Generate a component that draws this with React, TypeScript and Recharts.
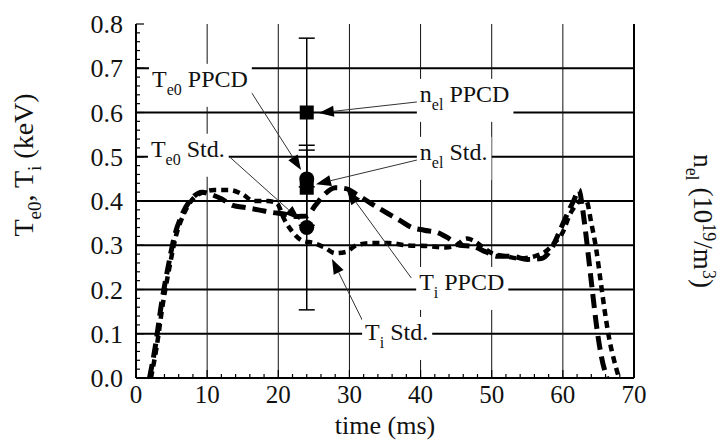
import React from 'react'
import {
  ComposedChart,
  Line,
  Scatter,
  ErrorBar,
  XAxis,
  YAxis,
  ReferenceLine,
  ReferenceDot,
  Label
} from 'recharts'

const SERIF = '"Liberation Serif", "Times New Roman", serif'

// Ti traces (keV) vs time (ms)
const tiPpcdTime = [1.9, 2.7, 3.6, 4.5, 5.4, 6.5, 7.8, 9.3, 10.5, 12, 13.6, 15.4, 17.2, 19.2, 21, 22.6, 24, 25.2, 26.5, 28, 29.5, 31, 32.5, 34, 35.8, 37.2, 38.8, 40.5, 42.5, 44, 45.5, 47.2, 49.2, 50.8, 52.8, 55, 57, 58.3, 59.5, 60.6, 61.5, 62.3, 62.7, 63.2, 63.7, 64.2, 64.8, 65.4, 66.2]
const tiPpcdKeV = [0, 0.07, 0.17, 0.25, 0.32, 0.37, 0.405, 0.42, 0.415, 0.405, 0.39, 0.385, 0.38, 0.374, 0.37, 0.365, 0.366, 0.39, 0.415, 0.43, 0.428, 0.415, 0.4, 0.385, 0.368, 0.355, 0.34, 0.334, 0.328, 0.315, 0.3, 0.298, 0.285, 0.275, 0.275, 0.268, 0.27, 0.29, 0.33, 0.37, 0.4, 0.425, 0.39, 0.33, 0.26, 0.19, 0.11, 0.05, 0]

const tiStdTime = [2.1, 2.9, 3.8, 4.7, 5.6, 6.7, 8, 9.5, 11, 13, 15, 16.5, 18.5, 19.8, 20.8, 22, 23.4, 25, 26.5, 28, 29.5, 31, 33, 35.5, 38, 41, 43.5, 45, 46.5, 47.5, 48.8, 50.3, 52, 54, 56, 57.5, 58.8, 60, 61, 61.8, 62.4, 63.3, 64, 64.7, 65.3, 65.9, 66.5, 67.2, 67.9]
const tiStdKeV = [0, 0.07, 0.17, 0.25, 0.32, 0.37, 0.405, 0.42, 0.425, 0.425, 0.415, 0.4, 0.4, 0.395, 0.36, 0.33, 0.31, 0.305, 0.295, 0.282, 0.285, 0.3, 0.305, 0.305, 0.3, 0.298, 0.295, 0.3, 0.315, 0.31, 0.295, 0.28, 0.275, 0.27, 0.275, 0.285, 0.305, 0.33, 0.37, 0.39, 0.4, 0.4, 0.35, 0.29, 0.22, 0.15, 0.09, 0.04, 0]

// point measurements at t = 24 ms
const probeTime = [24, 24]
const nelValues = [0.6, 0.43] // PPCD, Std. (squares)
const nelErrors = [0.168, 0.085]
const te0Values = [0.45, 0.34] // PPCD, Std. (circles)
const te0Errors = [0, 0.186]

const xMajor = [0, 10, 20, 30, 40, 50, 60, 70]
const yMajor = [0, 0.1, 0.2, 0.3, 0.4, 0.5, 0.6, 0.7, 0.8]
const xTicks = Array.from({ length: 36 }, (_, i) => i * 2)
const yTicks = Array.from({ length: 41 }, (_, i) => i / 50)

const tiPpcd = tiPpcdTime.map((x, i) => ({ x, y: tiPpcdKeV[i] }))
const tiStd = tiStdTime.map((x, i) => ({ x, y: tiStdKeV[i] }))
const nelPoints = nelValues.map((y, i) => ({ x: probeTime[i], y, err: nelErrors[i] }))
const te0Points = te0Values.map((y, i) => ({ x: probeTime[i], y, err: te0Errors[i] }))

// annotation text, anchored in data units
const notes = [
  { main: 'T', sub: 'e0', rest: ' PPCD', at: [2.25, 0.658], from: [16.0, 0.651], to: [23.2, 0.47] },
  { main: 'T', sub: 'e0', rest: ' Std.', at: [2.1, 0.5], from: [13.2, 0.499], to: [23.05, 0.357] },
  { main: 'n', sub: 'el', rest: ' PPCD', at: [39.9, 0.624], from: [39.6, 0.624], to: [25.7, 0.599] },
  { main: 'n', sub: 'el', rest: ' Std.', at: [39.9, 0.493], from: [39.6, 0.493], to: [25.3, 0.438] },
  { main: 'T', sub: 'i', rest: ' PPCD', at: [39.8, 0.199], from: [38.7, 0.226], to: [29.65, 0.425] },
  { main: 'T', sub: 'i', rest: ' Std.', at: [32.2, 0.086], from: [31.8, 0.131], to: [27.55, 0.269] }
]

let ctx: CanvasRenderingContext2D | null = null
function textWidth(s: string, size: number) {
  if (!ctx) ctx = document.createElement('canvas').getContext('2d')
  if (!ctx) return s.length * size * 0.5
  ctx.font = `${size}px "Liberation Serif"`
  return ctx.measureText(s).width
}

const isMajor = (v: number, step: number) => Math.abs(v / step - Math.round(v / step)) < 1e-6

function BottomTick({ x, y, payload }: any) {
  const v = payload.value
  const major = isMajor(v, 10)
  return (
    <g>
      <line x1={x} y1={y} x2={x} y2={y - (major ? 8 : 4)} stroke="#000" strokeWidth={1.2} />
      {major && (
        <text x={x} y={y + 25} textAnchor="middle" fontSize={25} fontFamily={SERIF} fill="#111">
          {v}
        </text>
      )}
    </g>
  )
}

function TopTick({ x, y, payload }: any) {
  const major = isMajor(payload.value, 10)
  return <line x1={x} y1={y} x2={x} y2={y + (major ? 8 : 4)} stroke="#000" strokeWidth={1.2} />
}

function LeftTick({ x, y, payload }: any) {
  const v = payload.value
  const major = isMajor(v, 0.1)
  return (
    <g>
      <line x1={x} y1={y} x2={x + (major ? 8 : 4)} y2={y} stroke="#000" strokeWidth={1.2} />
      {major && (
        <text x={x - 13} y={y + 9} textAnchor="end" fontSize={26} fontFamily={SERIF} fill="#111">
          {v.toFixed(1)}
        </text>
      )}
    </g>
  )
}

function RightTick({ x, y, payload }: any) {
  const v = payload.value
  const major = isMajor(v, 0.1)
  return (
    <g>
      <line x1={x} y1={y} x2={x - (major ? 8 : 4)} y2={y} stroke="#000" strokeWidth={1.2} />
      {major && (
        <text x={x + 8} y={y + 9} textAnchor="start" fontSize={26} fontFamily={SERIF} fill="#111">
          {v.toFixed(1)}
        </text>
      )}
    </g>
  )
}

function NoteBox({ cx, cy, note }: any) {
  const w = textWidth(note.main, 24) + textWidth(note.sub, 16) + textWidth(note.rest, 24)
  return (
    <g>
      <rect x={cx - 3} y={cy - 23} width={w + 7} height={43} fill="#fff" />
      <text x={cx} y={cy} fontSize={24} fontFamily={SERIF} fill="#111" style={{ whiteSpace: 'pre' }}>
        <tspan>{note.main}</tspan>
        <tspan fontSize={16} dy={8}>{note.sub}</tspan>
        <tspan dy={-8}>{note.rest}</tspan>
      </text>
    </g>
  )
}

function Arrow({ x1, y1, x2, y2 }: any) {
  const a = Math.atan2(y2 - y1, x2 - x1)
  const len = 15
  const half = 5.5
  const bx = x2 - len * Math.cos(a)
  const by = y2 - len * Math.sin(a)
  const px = -Math.sin(a) * half
  const py = Math.cos(a) * half
  return (
    <g>
      <line x1={x1} y1={y1} x2={bx} y2={by} stroke="#333" strokeWidth={1} />
      <polygon points={`${x2},${y2} ${bx + px},${by + py} ${bx - px},${by - py}`} fill="#000" />
    </g>
  )
}

const SquareMark = ({ cx, cy }: any) => <rect x={cx - 7} y={cy - 7} width={14} height={14} fill="#000" />
const CircleMark = ({ cx, cy }: any) => <circle cx={cx} cy={cy} r={7.5} fill="#000" />

function LeftTitle({ viewBox }: any) {
  const x = viewBox.x + 33
  const y = viewBox.y + viewBox.height / 2 - 36
  return (
    <text transform={`translate(${x},${y}) rotate(-90)`} textAnchor="middle" fontSize={28} fontFamily={SERIF} fill="#111" style={{ whiteSpace: 'pre' }}>
      <tspan>T</tspan>
      <tspan fontSize={19} dy={8}>e0</tspan>
      <tspan dy={-8}>, T</tspan>
      <tspan fontSize={19} dy={8}>i</tspan>
      <tspan dy={-8}> (keV)</tspan>
    </text>
  )
}

function RightTitle({ viewBox }: any) {
  const x = viewBox.x + 60
  const y = viewBox.y + viewBox.height / 2 + 20
  return (
    <text transform={`translate(${x},${y}) rotate(90)`} textAnchor="middle" fontSize={27} fontFamily={SERIF} fill="#111" style={{ whiteSpace: 'pre' }}>
      <tspan>n</tspan>
      <tspan fontSize={18} dy={8}>el</tspan>
      <tspan dy={-8}> (10</tspan>
      <tspan fontSize={18} dy={-9}>19</tspan>
      <tspan dy={9}>/m</tspan>
      <tspan fontSize={18} dy={-9}>3</tspan>
      <tspan dy={9}>)</tspan>
    </text>
  )
}

function BottomTitle({ viewBox }: any) {
  return (
    <text x={viewBox.x + viewBox.width / 2} y={viewBox.y + 56} textAnchor="middle" fontSize={26} fontFamily={SERIF} fill="#111">
      time (ms)
    </text>
  )
}

export default function App() {
  return (
    <div style={{ position: 'absolute', left: 0, top: 0, width: 723, height: 441, background: '#fff' }}>
      <ComposedChart width={723} height={441} margin={{ top: 24, right: 0, bottom: 0, left: 0 }}>
        <XAxis
          xAxisId="b"
          type="number"
          dataKey="x"
          domain={[0, 70]}
          ticks={xTicks}
          interval={0}
          tickSize={0}
          tickMargin={0}
          tick={<BottomTick />}
          axisLine={{ stroke: '#000', strokeWidth: 2 }}
          height={63}
        >
          <Label content={<BottomTitle />} />
        </XAxis>
        <XAxis
          xAxisId="t"
          orientation="top"
          type="number"
          dataKey="x"
          domain={[0, 70]}
          ticks={xTicks}
          interval={0}
          tickSize={0}
          tickMargin={0}
          tick={<TopTick />}
          axisLine={{ stroke: '#000', strokeWidth: 2 }}
          height={0}
        />
        <YAxis
          yAxisId="l"
          type="number"
          domain={[0, 0.8]}
          ticks={yTicks}
          interval={0}
          tickSize={0}
          tickMargin={0}
          tick={<LeftTick />}
          axisLine={{ stroke: '#000', strokeWidth: 2 }}
          width={136}
        >
          <Label content={<LeftTitle />} />
        </YAxis>
        <YAxis
          yAxisId="r"
          orientation="right"
          type="number"
          domain={[0, 0.8]}
          ticks={yTicks}
          interval={0}
          tickSize={0}
          tickMargin={0}
          tick={<RightTick />}
          axisLine={{ stroke: '#000', strokeWidth: 2 }}
          width={89}
        >
          <Label content={<RightTitle />} />
        </YAxis>

        {yMajor.slice(1, -1).map(v => (
          <ReferenceLine key={`h${v}`} xAxisId="b" yAxisId="l" y={v} stroke="#000" strokeWidth={1.8} />
        ))}
        {xMajor.slice(1, -1).map(v => (
          <ReferenceLine key={`v${v}`} xAxisId="b" yAxisId="l" x={v} stroke="#111" strokeWidth={1} />
        ))}

        {notes.map((n, i) => (
          <ReferenceDot
            key={`box${i}`}
            xAxisId="b"
            yAxisId="l"
            x={n.at[0]}
            y={n.at[1]}
            r={0}
            shape={(p: any) => <NoteBox {...p} note={n} />}
          />
        ))}

        <Line
          data={tiPpcd}
          xAxisId="b"
          yAxisId="l"
          dataKey="y"
          type="monotone"
          stroke="#000"
          strokeWidth={5}
          strokeDasharray="14 7"
          dot={false}
          activeDot={false}
          isAnimationActive={false}
        />
        <Line
          data={tiStd}
          xAxisId="b"
          yAxisId="l"
          dataKey="y"
          type="monotone"
          stroke="#000"
          strokeWidth={4.5}
          strokeDasharray="7 5"
          dot={false}
          activeDot={false}
          isAnimationActive={false}
        />

        {notes.map((n, i) => (
          <ReferenceLine
            key={`arr${i}`}
            xAxisId="b"
            yAxisId="l"
            segment={[{ x: n.from[0], y: n.from[1] }, { x: n.to[0], y: n.to[1] }]}
            shape={(p: any) => <Arrow {...p} />}
          />
        ))}

        <Scatter data={nelPoints} xAxisId="b" yAxisId="l" dataKey="y" shape={SquareMark} isAnimationActive={false}>
          <ErrorBar dataKey="err" direction="y" width={8} stroke="#000" strokeWidth={1.5} />
        </Scatter>
        <Scatter data={te0Points} xAxisId="b" yAxisId="l" dataKey="y" shape={CircleMark} isAnimationActive={false}>
          <ErrorBar dataKey="err" direction="y" width={8} stroke="#000" strokeWidth={1.5} />
        </Scatter>
      </ComposedChart>
    </div>
  )
}
